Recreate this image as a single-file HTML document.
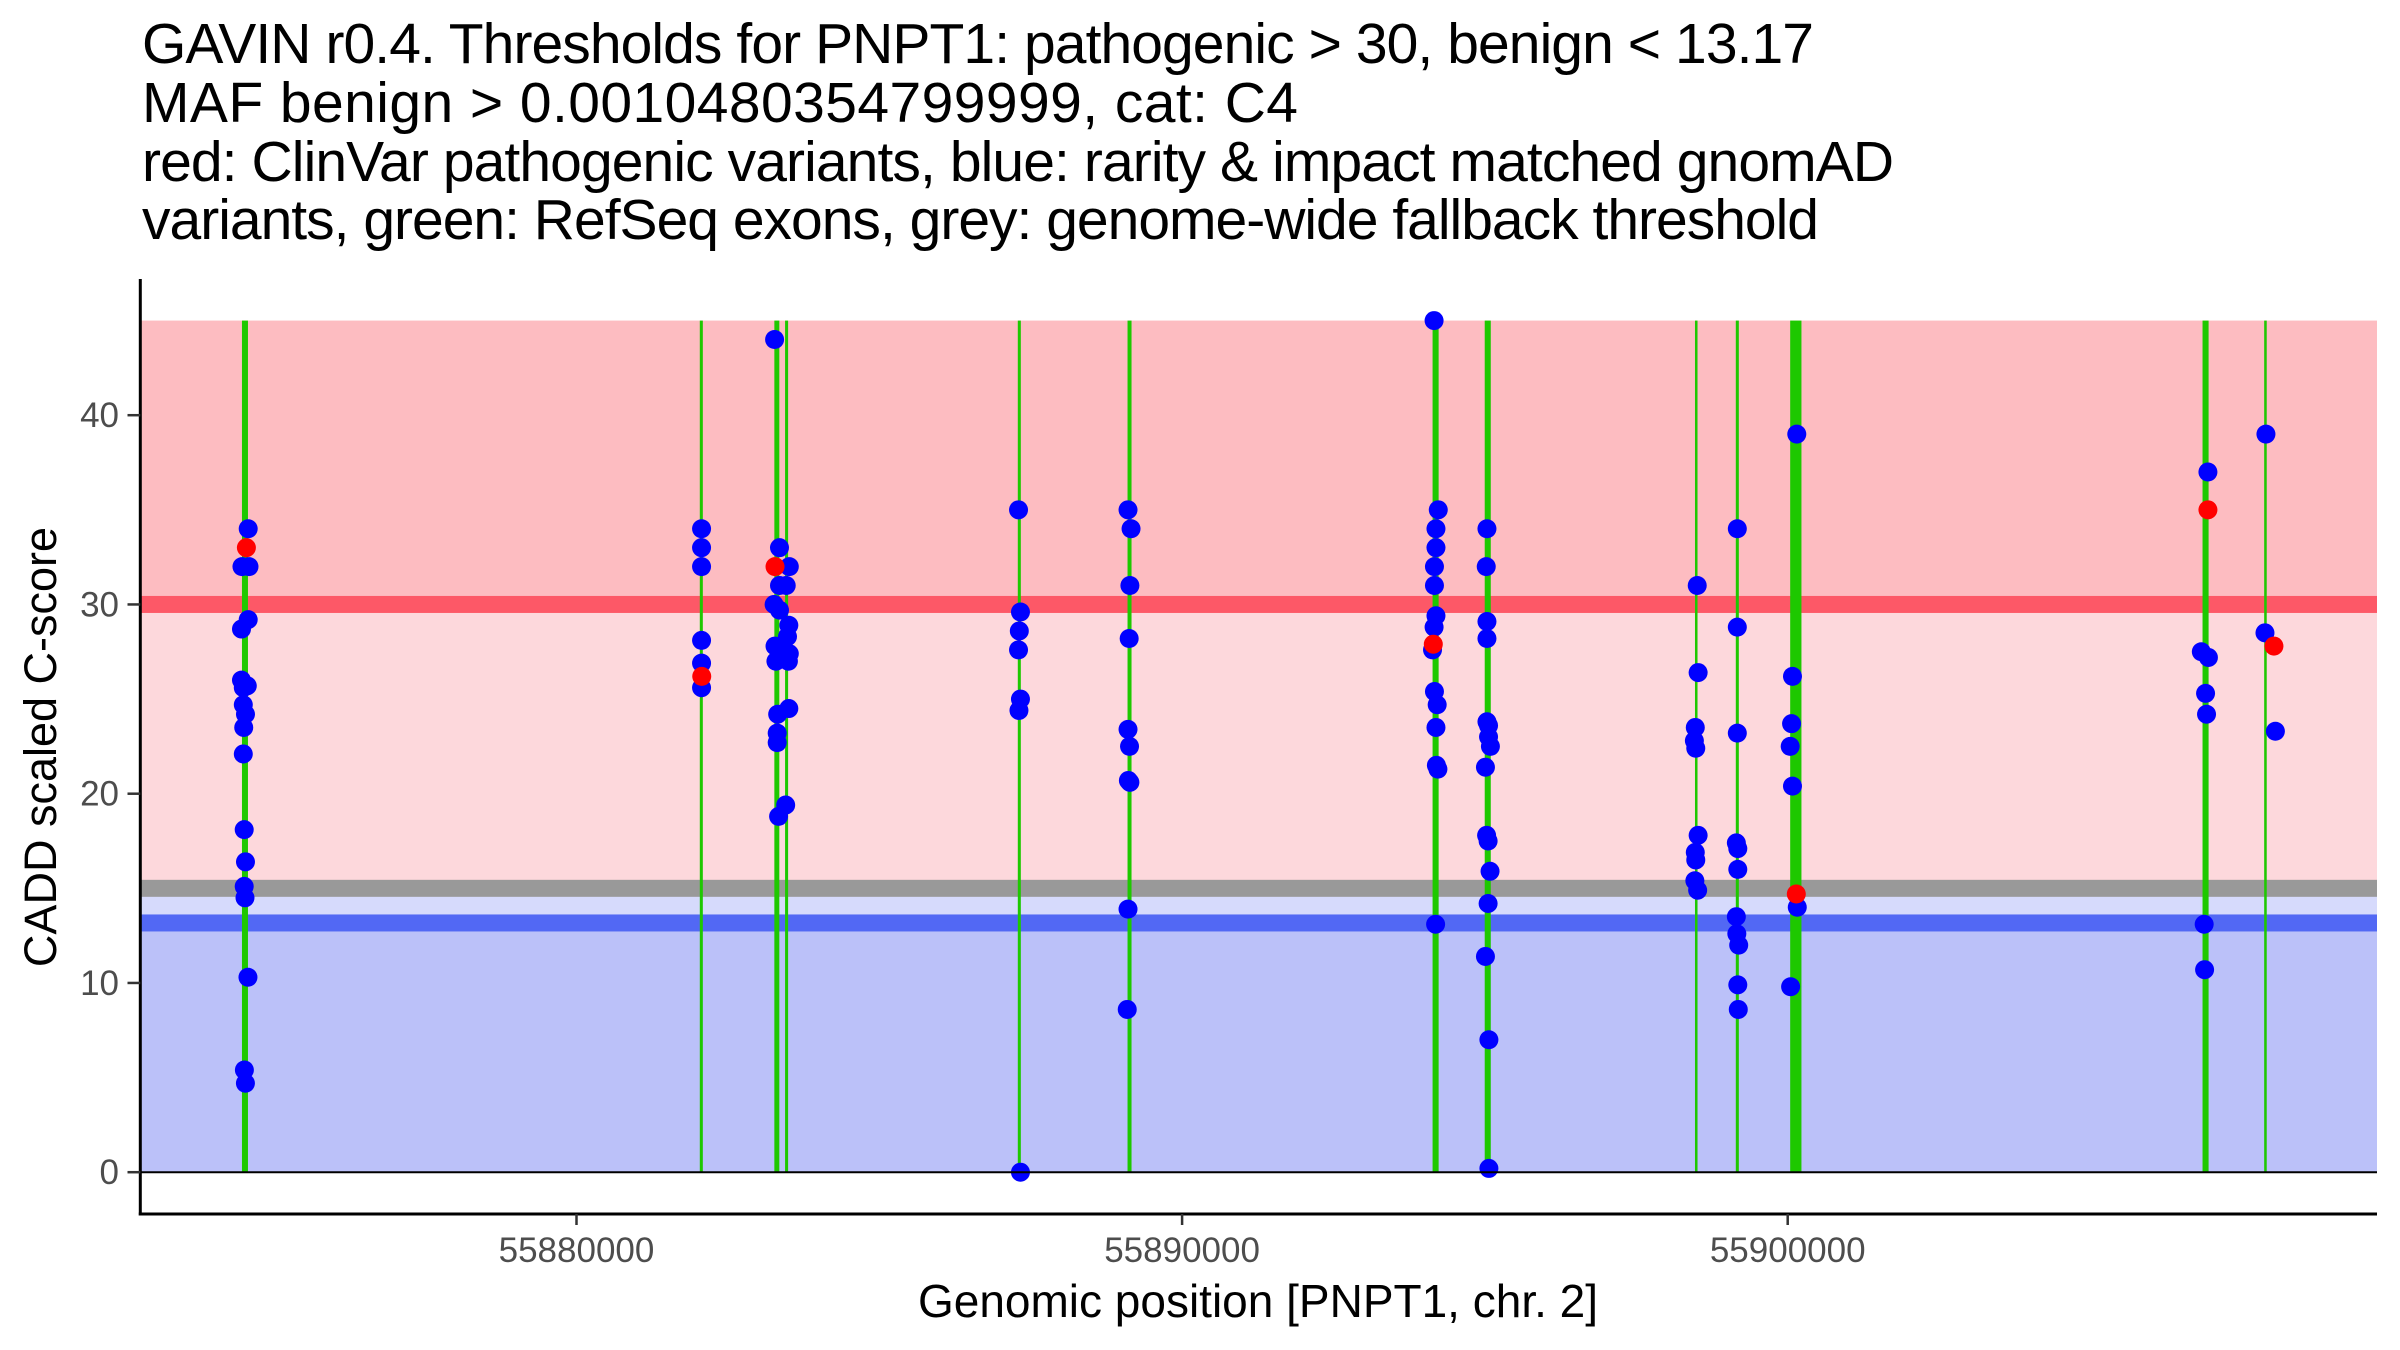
<!DOCTYPE html>
<html>
<head>
<meta charset="utf-8">
<style>
  html, body { margin: 0; padding: 0; background: #ffffff; }
  svg { display: block; font-family: "Liberation Sans", Arial, sans-serif; }
</style>
</head>
<body>
<svg id="chart" width="2400" height="1350" viewBox="0 0 2400 1350" xmlns="http://www.w3.org/2000/svg">
  <rect x="0" y="0" width="2400" height="1350" fill="#ffffff"/>
  <g font-size="57" fill="#000000">
    <text x="142" y="63" textLength="1672">GAVIN r0.4. Thresholds for PNPT1: pathogenic &gt; 30, benign &lt; 13.17</text>
    <text x="142" y="122" textLength="1156">MAF benign &gt; 0.0010480354799999, cat: C4</text>
    <text x="142" y="181" textLength="1752">red: ClinVar pathogenic variants, blue: rarity &amp; impact matched gnomAD</text>
    <text x="142" y="239" textLength="1677">variants, green: RefSeq exons, grey: genome-wide fallback threshold</text>
  </g>
  <g id="bands"></g>
  <g id="exons"></g>
  <g id="points"></g>
  <g id="axes"></g>
  <text x="1258" y="1317" font-size="46" text-anchor="middle" fill="#000000">Genomic position [PNPT1, chr. 2]</text>
  <text transform="translate(56,747) rotate(-90)" font-size="45" text-anchor="middle" fill="#000000">CADD scaled C-score</text>
</svg>
<script>
const xTicks = [55880000, 55890000, 55900000];
const yTicks = [0, 10, 20, 30, 40];
const pathogenicThreshold = 30;
const benignThreshold = 13.17;
const fallbackThreshold = 15;
const yMaxValue = 45;

const exonStart = [55874476, 55882036, 55883267, 55883444, 55887287, 55889099, 55894136, 55894997, 55898469, 55899143, 55900041, 55906850, 55907868];
const exonEnd   = [55874575, 55882086, 55883349, 55883494, 55887337, 55889165, 55894236, 55895097, 55898511, 55899193, 55900227, 55906950, 55907910];

const blueX = [
  55874579,55874476,55874592,55874579,55874468,55874468,55874564,55874498,55874498,55874534,55874505,55874498,55874513,55874534,55874513,55874526,55874575,55874516,55874533,
  55882065,55882065,55882065,55882065,55882065,55882065,
  55883271,55883352,55883514,55883352,55883463,55883263,55883352,55883506,55883484,55883278,55883514,55883293,55883499,55883506,55883322,55883314,55883314,55883454,55883337,
  55887299,55887331,55887312,55887299,55887331,55887306,55887331,
  55889107,55889157,55889138,55889126,55889107,55889132,55889138,55889113,55889107,55889094,
  55894161,55894230,55894192,55894192,55894167,55894167,55894192,55894161,55894135,55894167,55894212,55894192,55894199,55894224,55894186,
  55895034,55895022,55895034,55895034,55895034,55895060,55895060,55895091,55895009,55895028,55895053,55895085,55895053,55895009,55895066,55895066,
  55898506,55898521,55898474,55898459,55898482,55898521,55898474,55898482,55898467,55898513,
  55899168,55899168,55899168,55899152,55899176,55899176,55899152,55899160,55899191,55899176,55899184,
  55900150,55900079,55900064,55900041,55900079,55900158,55900048,
  55906939,55906830,55906947,55906900,55906916,55906877,55906884,
  55907897,55907881,55908053
];
const blueY = [
  34.0,32.0,32.0,29.2,28.7,26.0,25.7,25.6,24.7,24.2,23.5,22.1,18.1,16.4,15.1,14.5,10.3,5.4,4.7,
  34.0,33.0,32.0,28.1,26.9,25.6,
  44.0,33.0,32.0,31.0,31.0,30.0,29.7,28.9,28.3,27.8,27.4,27.0,27.0,24.5,24.2,23.2,22.7,19.4,18.8,
  35.0,29.6,28.6,27.6,25.0,24.4,0.0,
  35.0,34.0,31.0,28.2,23.4,22.5,20.6,20.7,13.9,8.6,
  45.0,35.0,34.0,33.0,32.0,31.0,29.4,28.8,27.6,25.4,24.7,23.5,21.5,21.3,13.1,
  34.0,32.0,29.1,28.2,23.8,23.6,23.0,22.5,21.4,17.8,17.5,15.9,14.2,11.4,7.0,0.2,
  31.0,26.4,23.5,22.8,22.4,17.8,16.9,16.5,15.4,14.9,
  34.0,28.8,23.2,17.4,17.1,16.0,13.5,12.6,12.0,9.9,8.6,
  39.0,26.2,23.7,22.5,20.4,14.0,9.8,
  37.0,27.5,27.2,25.3,24.2,13.1,10.7,
  39.0,28.5,23.3
];
const redX = [55874549, 55882068, 55883278, 55894148, 55900142, 55906939, 55908029];
const redY = [33.0, 26.2, 32.0, 27.9, 14.7, 35.0, 27.8];

const NS = 'http://www.w3.org/2000/svg';
const plotLeft = 140.3, plotRight = 2377, axisY = 1214;
const refX0 = 55880000, refPx0 = 576.5, pxPerBp = 0.06056;
const zeroPx = 1172.2, pxPerUnit = 18.925;
function xs(v) { return refPx0 + (v - refX0) * pxPerBp; }
function ys(v) { return zeroPx - v * pxPerUnit; }
function mk(tag, attrs, parent) {
  const el = document.createElementNS(NS, tag);
  for (const k in attrs) el.setAttribute(k, attrs[k]);
  parent.appendChild(el);
  return el;
}

const bands = document.getElementById('bands');
let el;
el = mk('rect', {x: plotLeft, y: ys(yMaxValue), width: plotRight - plotLeft, height: ys(pathogenicThreshold) - ys(yMaxValue), fill: '#fdbcc1'}, bands);


el = mk('rect', {x: plotLeft, y: ys(pathogenicThreshold), width: plotRight - plotLeft, height: ys(fallbackThreshold) - ys(pathogenicThreshold), fill: '#fdd8dc'}, bands);


el = mk('rect', {x: plotLeft, y: ys(fallbackThreshold), width: plotRight - plotLeft, height: ys(benignThreshold) - ys(fallbackThreshold), fill: '#d6dafc'}, bands);


el = mk('rect', {x: plotLeft, y: ys(benignThreshold), width: plotRight - plotLeft, height: ys(0) - ys(benignThreshold), fill: '#bbc1f9'}, bands);


el = mk('rect', {x: plotLeft, y: ys(pathogenicThreshold) - 8.5, width: plotRight - plotLeft, height: 17, fill: '#fd5867'}, bands);


el = mk('rect', {x: plotLeft, y: ys(fallbackThreshold) - 8.5, width: plotRight - plotLeft, height: 17, fill: '#999999'}, bands);


el = mk('rect', {x: plotLeft, y: ys(benignThreshold) - 8.5, width: plotRight - plotLeft, height: 17, fill: '#5268f4'}, bands);



const exons = document.getElementById('exons');
for (let i = 0; i < exonStart.length; i++) {
  const x0 = xs(exonStart[i]), x1 = xs(exonEnd[i]);
  let w = Math.max(x1 - x0, 2.5);
  const cx = (x0 + x1) / 2;
  const r = mk('rect', {x: cx - w / 2, y: ys(yMaxValue), width: w, height: ys(0) - ys(yMaxValue), fill: '#1ec800'}, exons);
  
  
}

const pts = document.getElementById('points');
for (let i = 0; i < blueX.length; i++) {
  const c = mk('circle', {cx: xs(blueX[i]), cy: ys(blueY[i]), r: 9.5, fill: '#0000ff'}, pts);
  
  
}
for (let i = 0; i < redX.length; i++) {
  const c = mk('circle', {cx: xs(redX[i]), cy: ys(redY[i]), r: 9.5, fill: '#ff0000'}, pts);
  
  
}

const axes = document.getElementById('axes');
el = mk('line', {x1: plotLeft, y1: ys(0), x2: plotRight, y2: ys(0), stroke: '#000000', 'stroke-width': 2}, axes);


el = mk('line', {x1: plotLeft, y1: 279, x2: plotLeft, y2: axisY + 1.5, stroke: '#000000', 'stroke-width': 3}, axes);


el = mk('line', {x1: plotLeft - 1.5, y1: axisY, x2: plotRight, y2: axisY, stroke: '#000000', 'stroke-width': 3}, axes);


for (let i = 0; i < yTicks.length; i++) {
  const y = ys(yTicks[i]);
  const t = mk('line', {x1: 127.5, y1: y, x2: plotLeft, y2: y, stroke: '#333333', 'stroke-width': 2.5}, axes);
  
  
  const lb = mk('text', {x: 119, y: y + 12, 'font-size': 35, 'text-anchor': 'end', fill: '#4d4d4d'}, axes);
  lb.textContent = String(yTicks[i]);
  
  
}
for (let i = 0; i < xTicks.length; i++) {
  const x = xs(xTicks[i]);
  const t = mk('line', {x1: x, y1: axisY, x2: x, y2: axisY + 11, stroke: '#333333', 'stroke-width': 2.5}, axes);
  
  
  const lb = mk('text', {x: x, y: 1262, 'font-size': 35, 'text-anchor': 'middle', fill: '#4d4d4d'}, axes);
  lb.textContent = String(xTicks[i]);
  
  
}
</script>
</body>
</html>
